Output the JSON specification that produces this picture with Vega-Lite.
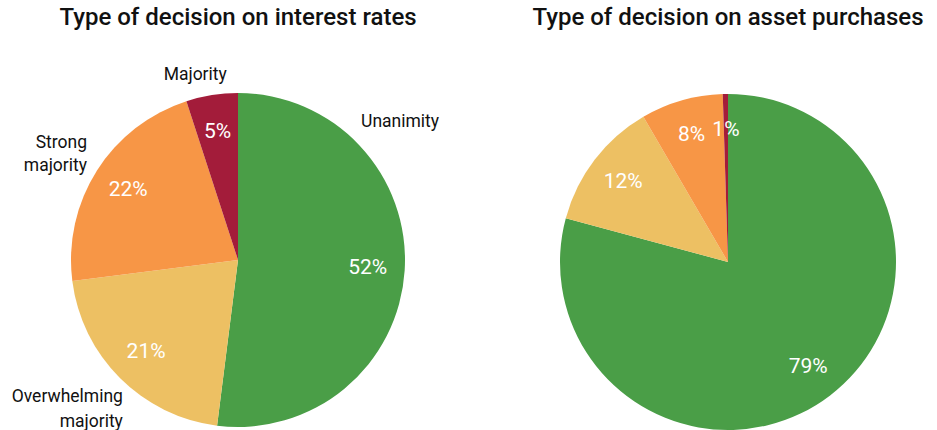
{
  "$schema": "https://vega.github.io/schema/vega-lite/v6.json",
  "padding": {"left": 8, "top": 6, "right": 0, "bottom": 0},
  "spacing": 60,
  "background": "white",
  "config": {
    "view": {"stroke": null},
    "font": "Roboto",
    "title": {"fontSize": 24, "fontWeight": 500, "color": "#111111", "offset": 30, "font": "Roboto"}
  },
  "datasets": {
    "rates": [
      {"category": "Unanimity", "value": 52, "order": 1, "pct": "52%", "label": "Unanimity"},
      {"category": "Overwhelming majority", "value": 21, "order": 2, "pct": "21%", "label": ["Overwhelming", "majority"]},
      {"category": "Strong majority", "value": 22, "order": 3, "pct": "22%", "label": ["Strong", "majority"]},
      {"category": "Majority", "value": 5, "order": 4, "pct": "5%", "label": "Majority"}
    ],
    "assets": [
      {"category": "Unanimity", "value": 79.2, "order": 1, "pct": "79%"},
      {"category": "Overwhelming majority", "value": 12.4, "order": 2, "pct": "12%"},
      {"category": "Strong majority", "value": 7.9, "order": 3, "pct": "8%"},
      {"category": "Majority", "value": 0.5, "order": 4, "pct": "1%"}
    ]
  },
  "hconcat": [
    {
      "title": "Type of decision on interest rates",
      "width": 460,
      "height": 400,
      "data": {"name": "rates"},
      "encoding": {
        "theta": {"field": "value", "type": "quantitative", "stack": true},
        "order": {"field": "order", "type": "quantitative"}
      },
      "layer": [
        {
          "mark": {"type": "arc", "radius": 167},
          "encoding": {
            "color": {
              "field": "category", "type": "nominal", "legend": null,
              "scale": {"domain": ["Unanimity", "Overwhelming majority", "Strong majority", "Majority"], "range": ["#4a9e47", "#edc063", "#f79646", "#a31c3a"]}
            }
          }
        },
        {
          "mark": {"type": "text", "radius": 130, "fontSize": 21, "color": "white", "baseline": "middle"},
          "encoding": {"text": {"field": "pct", "type": "nominal"}}
        },
        {
          "mark": {"type": "text", "radius": 191, "thetaOffset": 0.094, "align": "right", "baseline": "middle", "fontSize": 17.5, "lineHeight": 23, "color": "#111111"},
          "encoding": {"text": {"condition": {"test": "datum.order == 3", "field": "label", "type": "nominal"}, "value": ""}}
        },
        {
          "mark": {"type": "text", "radius": 179, "thetaOffset": -0.087, "align": "right", "baseline": "middle", "fontSize": 17.5, "lineHeight": 25, "color": "#111111"},
          "encoding": {"text": {"condition": {"test": "datum.order == 2", "field": "label", "type": "nominal"}, "value": ""}}
        },
        {
          "mark": {"type": "text", "radius": 190, "thetaOffset": -0.07, "align": "center", "baseline": "middle", "fontSize": 17.5, "color": "#111111"},
          "encoding": {"text": {"condition": {"test": "datum.order == 4", "field": "label", "type": "nominal"}, "value": ""}}
        },
        {
          "mark": {"type": "text", "radius": 185, "thetaOffset": -0.906, "align": "left", "baseline": "middle", "fontSize": 17.5, "color": "#111111"},
          "encoding": {"text": {"condition": {"test": "datum.order == 1", "field": "label", "type": "nominal"}, "value": ""}}
        }
      ]
    },
    {
      "title": "Type of decision on asset purchases",
      "width": 400,
      "height": 404,
      "data": {"name": "assets"},
      "encoding": {
        "theta": {"field": "value", "type": "quantitative", "stack": true},
        "order": {"field": "order", "type": "quantitative"}
      },
      "layer": [
        {
          "mark": {"type": "arc", "radius": 168},
          "encoding": {
            "color": {"field": "category", "type": "nominal", "legend": null}
          }
        },
        {
          "mark": {"type": "text", "radius": 132, "fontSize": 21, "color": "white", "baseline": "middle"},
          "encoding": {"text": {"field": "pct", "type": "nominal"}}
        }
      ]
    }
  ]
}
